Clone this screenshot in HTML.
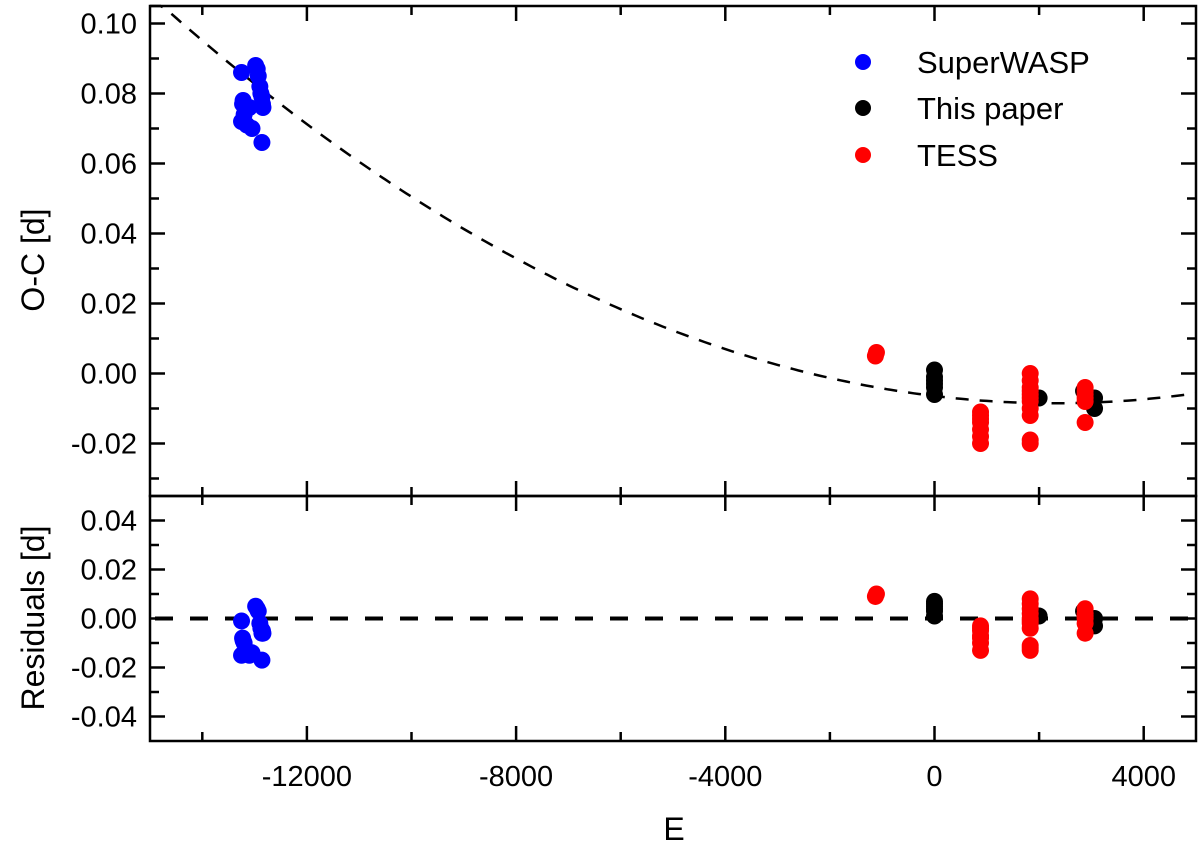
<!DOCTYPE html>
<html><head><meta charset="utf-8"><style>body{margin:0;background:#fff}svg{display:block;font-family:"Liberation Sans",Arial,sans-serif}</style></head>
<body>
<svg id="c" width="1200" height="852" viewBox="0 0 1200 852"></svg>
<script>
const xTicks=[-12000,-8000,-4000,0,4000];
const topTicks=[-0.02,0.00,0.02,0.04,0.06,0.08,0.10];
const botTicks=[-0.04,-0.02,0.00,0.02,0.04];
const fitA=3.9e-10, fitE0=2300, fitC=-0.0085;
const swE=[-13250,-13230,-13200,-13150,-13100,-13050,-12980,-12950,-12930,-12900,-12880,-12860,-12850,-12840,-12860,-13250,-13220];
const swOC=[0.086,0.077,0.074,0.071,0.076,0.070,0.088,0.087,0.085,0.082,0.080,0.079,0.077,0.076,0.066,0.072,0.078];
const swRes=[-0.001,-0.008,-0.010,-0.014,-0.015,-0.014,0.005,0.004,0.003,-0.002,-0.004,-0.006,-0.005,-0.006,-0.017,-0.015,-0.009];
const tpE=[0,0,0,0,0,0,2000,2850,3060,3060];
const tpOC=[0.001,-0.001,-0.002,-0.003,-0.004,-0.006,-0.007,-0.005,-0.007,-0.010];
const tpRes=[0.001,0.003,0.005,0.006,0.007,0.004,0.001,0.003,0.000,-0.003];
const tsE=[-1130,-1110,880,880,880,880,880,880,880,1830,1830,1830,1830,1830,1830,1830,1830,1830,1830,1830,2880,2880,2880,2880,2880,2880];
const tsOC=[0.005,0.006,-0.011,-0.012,-0.013,-0.014,-0.016,-0.018,-0.020,0.000,-0.002,-0.004,-0.005,-0.006,-0.007,-0.008,-0.010,-0.012,-0.019,-0.020,-0.004,-0.005,-0.006,-0.007,-0.008,-0.014];
const tsRes=[0.009,0.010,-0.003,-0.004,-0.005,-0.007,-0.008,-0.010,-0.013,0.008,0.006,0.004,0.002,0.000,-0.001,-0.002,-0.004,-0.011,-0.013,-0.012,0.004,0.002,0.001,0.000,-0.002,-0.006];

const NS='http://www.w3.org/2000/svg', svg=document.getElementById('c');
const X0=150,X1=1196, xmin=-15000,xmax=5000;
const sx=e=>X0+(e-xmin)/(xmax-xmin)*(X1-X0);
const T0=6,T1=496, tmin=-0.035,tmax=0.105;
const st=v=>T1-(v-tmin)/(tmax-tmin)*(T1-T0);
const B0=496,B1=741, bmin=-0.05,bmax=0.05;
const sb=v=>B1-(v-bmin)/(bmax-bmin)*(B1-B0);
function el(t,a,p){const e=document.createElementNS(NS,t);for(const k in a)e.setAttribute(k,a[k]);(p||svg).appendChild(e);return e;}
function line(x1,y1,x2,y2,w){return el('line',{x1,y1,x2,y2,stroke:'#000','stroke-width':w||2.5});}
function text(x,y,s,anchor,size,rot){const t=el('text',{x,y,'font-size':size||24,'text-anchor':anchor||'middle',fill:'#000'});if(rot)t.setAttribute('transform',`rotate(-90 ${x} ${y})`);t.textContent=s;return t;}

let d='';for(let e=xmin;e<=xmax;e+=100){const v=fitA*(e-fitE0)**2+fitC;const y=st(v);d+=(d?'L':'M')+sx(e).toFixed(1)+','+Math.max(y,T0).toFixed(1);}
const fc=el('path',{d,fill:'none',stroke:'#000','stroke-width':2.5,'stroke-dasharray':'13,11'});


const zl=el('line',{x1:X0+5,y1:sb(0),x2:X1-5,y2:sb(0),stroke:'#000','stroke-width':4,'stroke-dasharray':'18,17'});



function dots(E,V,sy,col,name){const g=el('g',{});
 E.forEach((e,i)=>{const c=el('circle',{cx:sx(e),cy:sy(V[i]),r:8.5,fill:col},g);});}
dots(swE,swOC,st,'#0000ff','superwasp-oc');
dots(tpE,tpOC,st,'#000','thispaper-oc');
dots(tsE,tsOC,st,'#ff0000','tess-oc');
dots(swE,swRes,sb,'#0000ff','superwasp-res');
dots(tpE,tpRes,sb,'#000','thispaper-res');
dots(tsE,tsRes,sb,'#ff0000','tess-res');

el('rect',{x:X0,y:T0,width:X1-X0,height:T1-T0,fill:'none',stroke:'#000','stroke-width':2.5});
el('rect',{x:X0,y:B0,width:X1-X0,height:B1-B0,fill:'none',stroke:'#000','stroke-width':2.5});
for(let e=-14000;e<=4000;e+=2000){const x=sx(e),maj=e%4000===0,L=maj?15:9;
 line(x,T0,x,T0+L);line(x,T1,x,T1-L);line(x,B0,x,B0+L);line(x,B1,x,B1-L);}
xTicks.forEach(e=>{const t=text(sx(e),786,String(e),'middle',29);});
for(let i=-3;i<=10;i++){const v=i/100,y=st(v),maj=i%2===0,L=maj?15:9;line(X0,y,X0+L,y);line(X1,y,X1-L,y);}
topTicks.forEach(v=>{const t=text(137,st(v)+10,v.toFixed(2),'end',29);});
for(let i=-4;i<=4;i++){const v=i/100,y=sb(v),maj=i%2===0,L=maj?15:9;line(X0,y,X0+L,y);line(X1,y,X1-L,y);}
botTicks.forEach(v=>{const t=text(137,sb(v)+10,v.toFixed(2),'end',29);});
const yt1=text(44,260,'O-C [d]','middle',32,true);
const yt2=text(44,618,'Residuals [d]','middle',32,true);
const xt=text(674,840,'E','middle',32);
const leg=[['SuperWASP','#0000ff',62],['This paper','#000',108],['TESS','#ff0000',155]];
leg.forEach(l=>{const g=el('g',{});
 el('circle',{cx:863,cy:l[2],r:8,fill:l[1]},g);const t=el('text',{x:917,y:l[2]+11,'font-size':31,fill:'#000'},g);t.textContent=l[0];});
</script>
</body></html>
